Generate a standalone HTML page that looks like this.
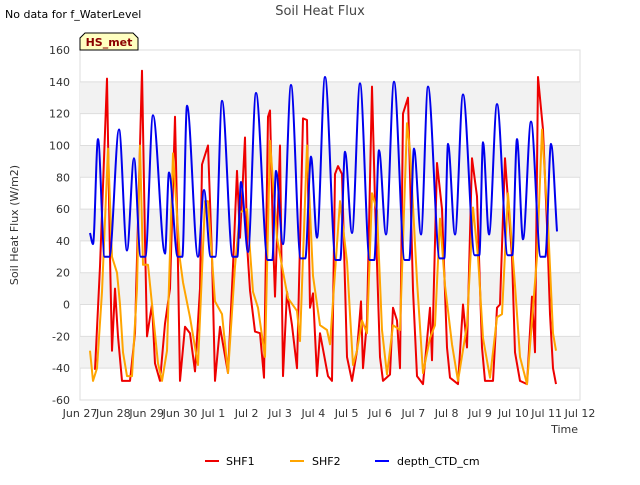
<!DOCTYPE html>
<html><head><meta charset="utf-8"><style>
body{margin:0;background:#fff;font-family:"Liberation Sans","DejaVu Sans",sans-serif}
</style></head><body>
<svg id="c" width="640" height="480" xmlns="http://www.w3.org/2000/svg" font-family="DejaVu Sans, Liberation Sans, sans-serif">
<text x="5" y="18" font-size="11">No data for f_WaterLevel</text>
<text x="320" y="15" font-size="13" fill="#444" text-anchor="middle">Soil Heat Flux</text>
<g id="plot"></g>
<text x="18" y="225" font-size="11" fill="#333" text-anchor="middle" transform="rotate(-90 18 225)">Soil Heat Flux (W/m2)</text>
<text x="578" y="433" font-size="11" fill="#333" text-anchor="end">Time</text>
<g>
<path d="M80,50 L80,38 L85,33 L133,33 L138,38 L138,50 Z" fill="#ffffc0" stroke="#000" stroke-width="1"/>
<text x="109" y="46" font-size="11" font-weight="bold" fill="#8b0000" text-anchor="middle">HS_met</text>
</g>
<g>
<g><line x1="205" y1="461" x2="219" y2="461" stroke="#e00" stroke-width="2"/><text x="226" y="465" font-size="11">SHF1</text></g>
<g><line x1="290" y1="461" x2="304" y2="461" stroke="#ffa500" stroke-width="2"/><text x="312" y="465" font-size="11">SHF2</text></g>
<g><line x1="375" y1="461" x2="389" y2="461" stroke="#00f" stroke-width="2"/><text x="397" y="465" font-size="11">depth_CTD_cm</text></g>
</g>
</svg>
<script>
const yTicks=[-60,-40,-20,0,20,40,60,80,100,120,140,160];
const xTickLabels=["Jun 27","Jun 28","Jun 29","Jun 30","Jul 1","Jul 2","Jul 3","Jul 4","Jul 5","Jul 6","Jul 7","Jul 8","Jul 9","Jul 10","Jul 11","Jul 12"];
const xTickDays=[0,1,2,3,4,5,6,7,8,9,10,11,12,13,14,15];
const shf1T=[0.45,0.6,0.81,0.9,0.96,1.05,1.14,1.26,1.5,1.65,1.86,1.95,2.01,2.16,2.25,2.4,2.55,2.7,2.85,2.91,3.0,3.15,3.3,3.45,3.6,3.66,3.84,3.96,4.05,4.2,4.44,4.59,4.71,4.8,4.95,5.01,5.1,5.25,5.4,5.52,5.64,5.7,5.79,5.85,6.0,6.09,6.21,6.36,6.51,6.69,6.81,6.9,6.99,7.11,7.2,7.44,7.56,7.65,7.74,7.86,7.95,8.01,8.16,8.31,8.43,8.49,8.61,8.76,8.85,9.0,9.09,9.3,9.39,9.51,9.6,9.69,9.84,9.99,10.11,10.29,10.5,10.56,10.71,10.86,11.01,11.1,11.34,11.49,11.61,11.76,11.91,12.06,12.15,12.39,12.51,12.6,12.75,12.96,13.05,13.2,13.41,13.56,13.65,13.74,13.89,14.01,14.1,14.19,14.28];
const shf1V=[-41,24,142,30,-29,10,-20,-48,-48,-18,147,40,-20,0,-37,-48,-12,10,118,60,-48,-14,-18,-42,10,88,100,30,-48,-14,-43,24,84,42,105,38,9,-17,-18,-46,118,122,42,5,100,-45,8,-13,-40,117,116,-2,7,-45,-18,-45,-48,82,87,82,13,-33,-48,-29,2,-40,-10,137,65,-33,-48,-44,-2,-10,-40,120,130,9,-45,-50,-2,-35,89,60,-27,-46,-50,0,-27,92,68,-27,-48,-48,-2,0,92,30,-30,-48,-50,5,-30,143,110,50,-6,-40,-50];
const shf2T=[0.3,0.39,0.51,0.66,0.84,0.96,1.11,1.2,1.29,1.41,1.56,1.71,1.8,1.89,2.04,2.19,2.34,2.46,2.61,2.79,3.0,3.09,3.3,3.54,3.75,3.84,4.05,4.26,4.44,4.65,4.8,5.01,5.19,5.34,5.55,5.7,5.91,6.06,6.24,6.51,6.6,6.81,6.99,7.2,7.41,7.5,7.8,8.01,8.1,8.19,8.31,8.46,8.61,8.76,8.91,9.06,9.21,9.39,9.6,9.81,9.9,10.11,10.29,10.5,10.65,10.8,10.95,11.16,11.34,11.61,11.79,11.94,12.09,12.3,12.51,12.66,12.84,13.05,13.2,13.41,13.56,13.71,13.86,14.04,14.19,14.28];
const shf2V=[-29,-48,-40,8,98,30,20,0,-30,-45,-45,10,100,25,25,-6,-37,-48,-29,95,28,14,-8,-38,65,65,2,-6,-43,24,58,60,8,-2,-33,103,42,24,4,-4,-23,100,18,-13,-16,-25,65,27,-6,-38,-29,-10,-18,70,59,-16,-44,-13,-16,114,97,15,-43,-21,-13,54,12,-25,-48,-13,61,30,-21,-46,-8,-6,70,12,-33,-50,-10,30,110,51,-18,-29];
const depthT=[0.3,0.39,0.54,0.74,0.88,1.17,1.41,1.62,1.82,1.96,2.19,2.55,2.67,2.93,3.07,3.21,3.54,3.72,3.92,4.06,4.26,4.58,4.72,4.83,5.04,5.28,5.63,5.77,5.88,6.09,6.33,6.62,6.76,6.93,7.11,7.35,7.67,7.81,7.95,8.16,8.4,8.69,8.83,8.97,9.18,9.42,9.74,9.88,10.02,10.23,10.44,10.79,10.93,11.04,11.25,11.49,11.84,11.98,12.09,12.27,12.51,12.83,12.97,13.11,13.29,13.53,13.82,13.96,14.13,14.31];
const depthV=[45,38,104,30,30,110,34,92,30,30,119,32,83,30,30,125,30,72,30,30,128,30,30,77,33,133,28,28,84,38,138,29,29,93,42,143,28,28,96,45,139,28,28,97,44,140,28,28,98,44,137,29,29,101,44,132,31,31,102,44,126,31,31,104,41,115,30,30,101,46];

const L=80,R=580,T=50,B=400;
const x=d=>L+(d/15)*(R-L);
const y=v=>B-(v+60)/220*(B-T);
const NS="http://www.w3.org/2000/svg";
const g=document.getElementById('plot');
function mk(tag,attrs){const e=document.createElementNS(NS,tag);for(const k in attrs)e.setAttribute(k,attrs[k]);g.appendChild(e);return e;}
const bg=mk('rect',{x:L,y:T,width:R-L,height:B-T,fill:'#fff',stroke:'#ddd'});


for(let i=0;i<yTicks.length-1;i++){
  const v=yTicks[i];
  if(((v+60)/20)%2===1){
    const b=mk('rect',{x:L,y:y(v+20),width:R-L,height:y(v)-y(v+20),fill:'#f2f2f2'});
    
    
  }
}
yTicks.forEach(v=>{
  const ln=mk('line',{x1:L,x2:R,y1:y(v),y2:y(v),stroke:'#ddd','stroke-width':1});
  
  
  const t=mk('text',{x:L-10,y:y(v)+4,'font-size':11,fill:'#333','text-anchor':'end'});
  t.textContent=v;
  
  
});
xTickDays.forEach((d,i)=>{
  const t=mk('text',{x:x(d),y:B+17,'font-size':11,fill:'#333','text-anchor':'middle'});
  t.textContent=xTickLabels[i];
  
  
});
function linePath(ts,vs){const n=Math.min(ts.length,vs.length);let d='';for(let i=0;i<n;i++)d+=(i?'L':'M')+x(ts[i]).toFixed(1)+','+y(vs[i]).toFixed(1);return d;}
function monoPath(ts,vs){
 const n=Math.min(ts.length,vs.length);const X=[],Y=[];
 for(let i=0;i<n;i++){X.push(x(ts[i]));Y.push(y(vs[i]));}
 const s=[],m=[];
 for(let i=0;i<n-1;i++)s.push((Y[i+1]-Y[i])/(X[i+1]-X[i]));
 m[0]=s[0];m[n-1]=s[n-2];
 for(let i=1;i<n-1;i++){ if(s[i-1]*s[i]<=0)m[i]=0; else { const h0=X[i]-X[i-1],h1=X[i+1]-X[i]; m[i]=3*(h0+h1)/((2*h1+h0)/s[i-1]+(h1+2*h0)/s[i]); } }
 let d='M'+X[0].toFixed(1)+','+Y[0].toFixed(1);
 for(let i=0;i<n-1;i++){const h=(X[i+1]-X[i])/3;
  d+='C'+(X[i]+h).toFixed(1)+','+(Y[i]+m[i]*h).toFixed(1)+' '+(X[i+1]-h).toFixed(1)+','+(Y[i+1]-m[i+1]*h).toFixed(1)+' '+X[i+1].toFixed(1)+','+Y[i+1].toFixed(1);}
 return d;}
const s1=mk('path',{d:linePath(shf1T,shf1V),fill:'none',stroke:'#ee0000','stroke-width':2,'stroke-linejoin':'round'});


const s2=mk('path',{d:linePath(shf2T,shf2V),fill:'none',stroke:'#ffa500','stroke-width':2,'stroke-linejoin':'round'});


const s3=mk('path',{d:monoPath(depthT,depthV),fill:'none',stroke:'#0000ee','stroke-width':2});


</script>
</body></html>
